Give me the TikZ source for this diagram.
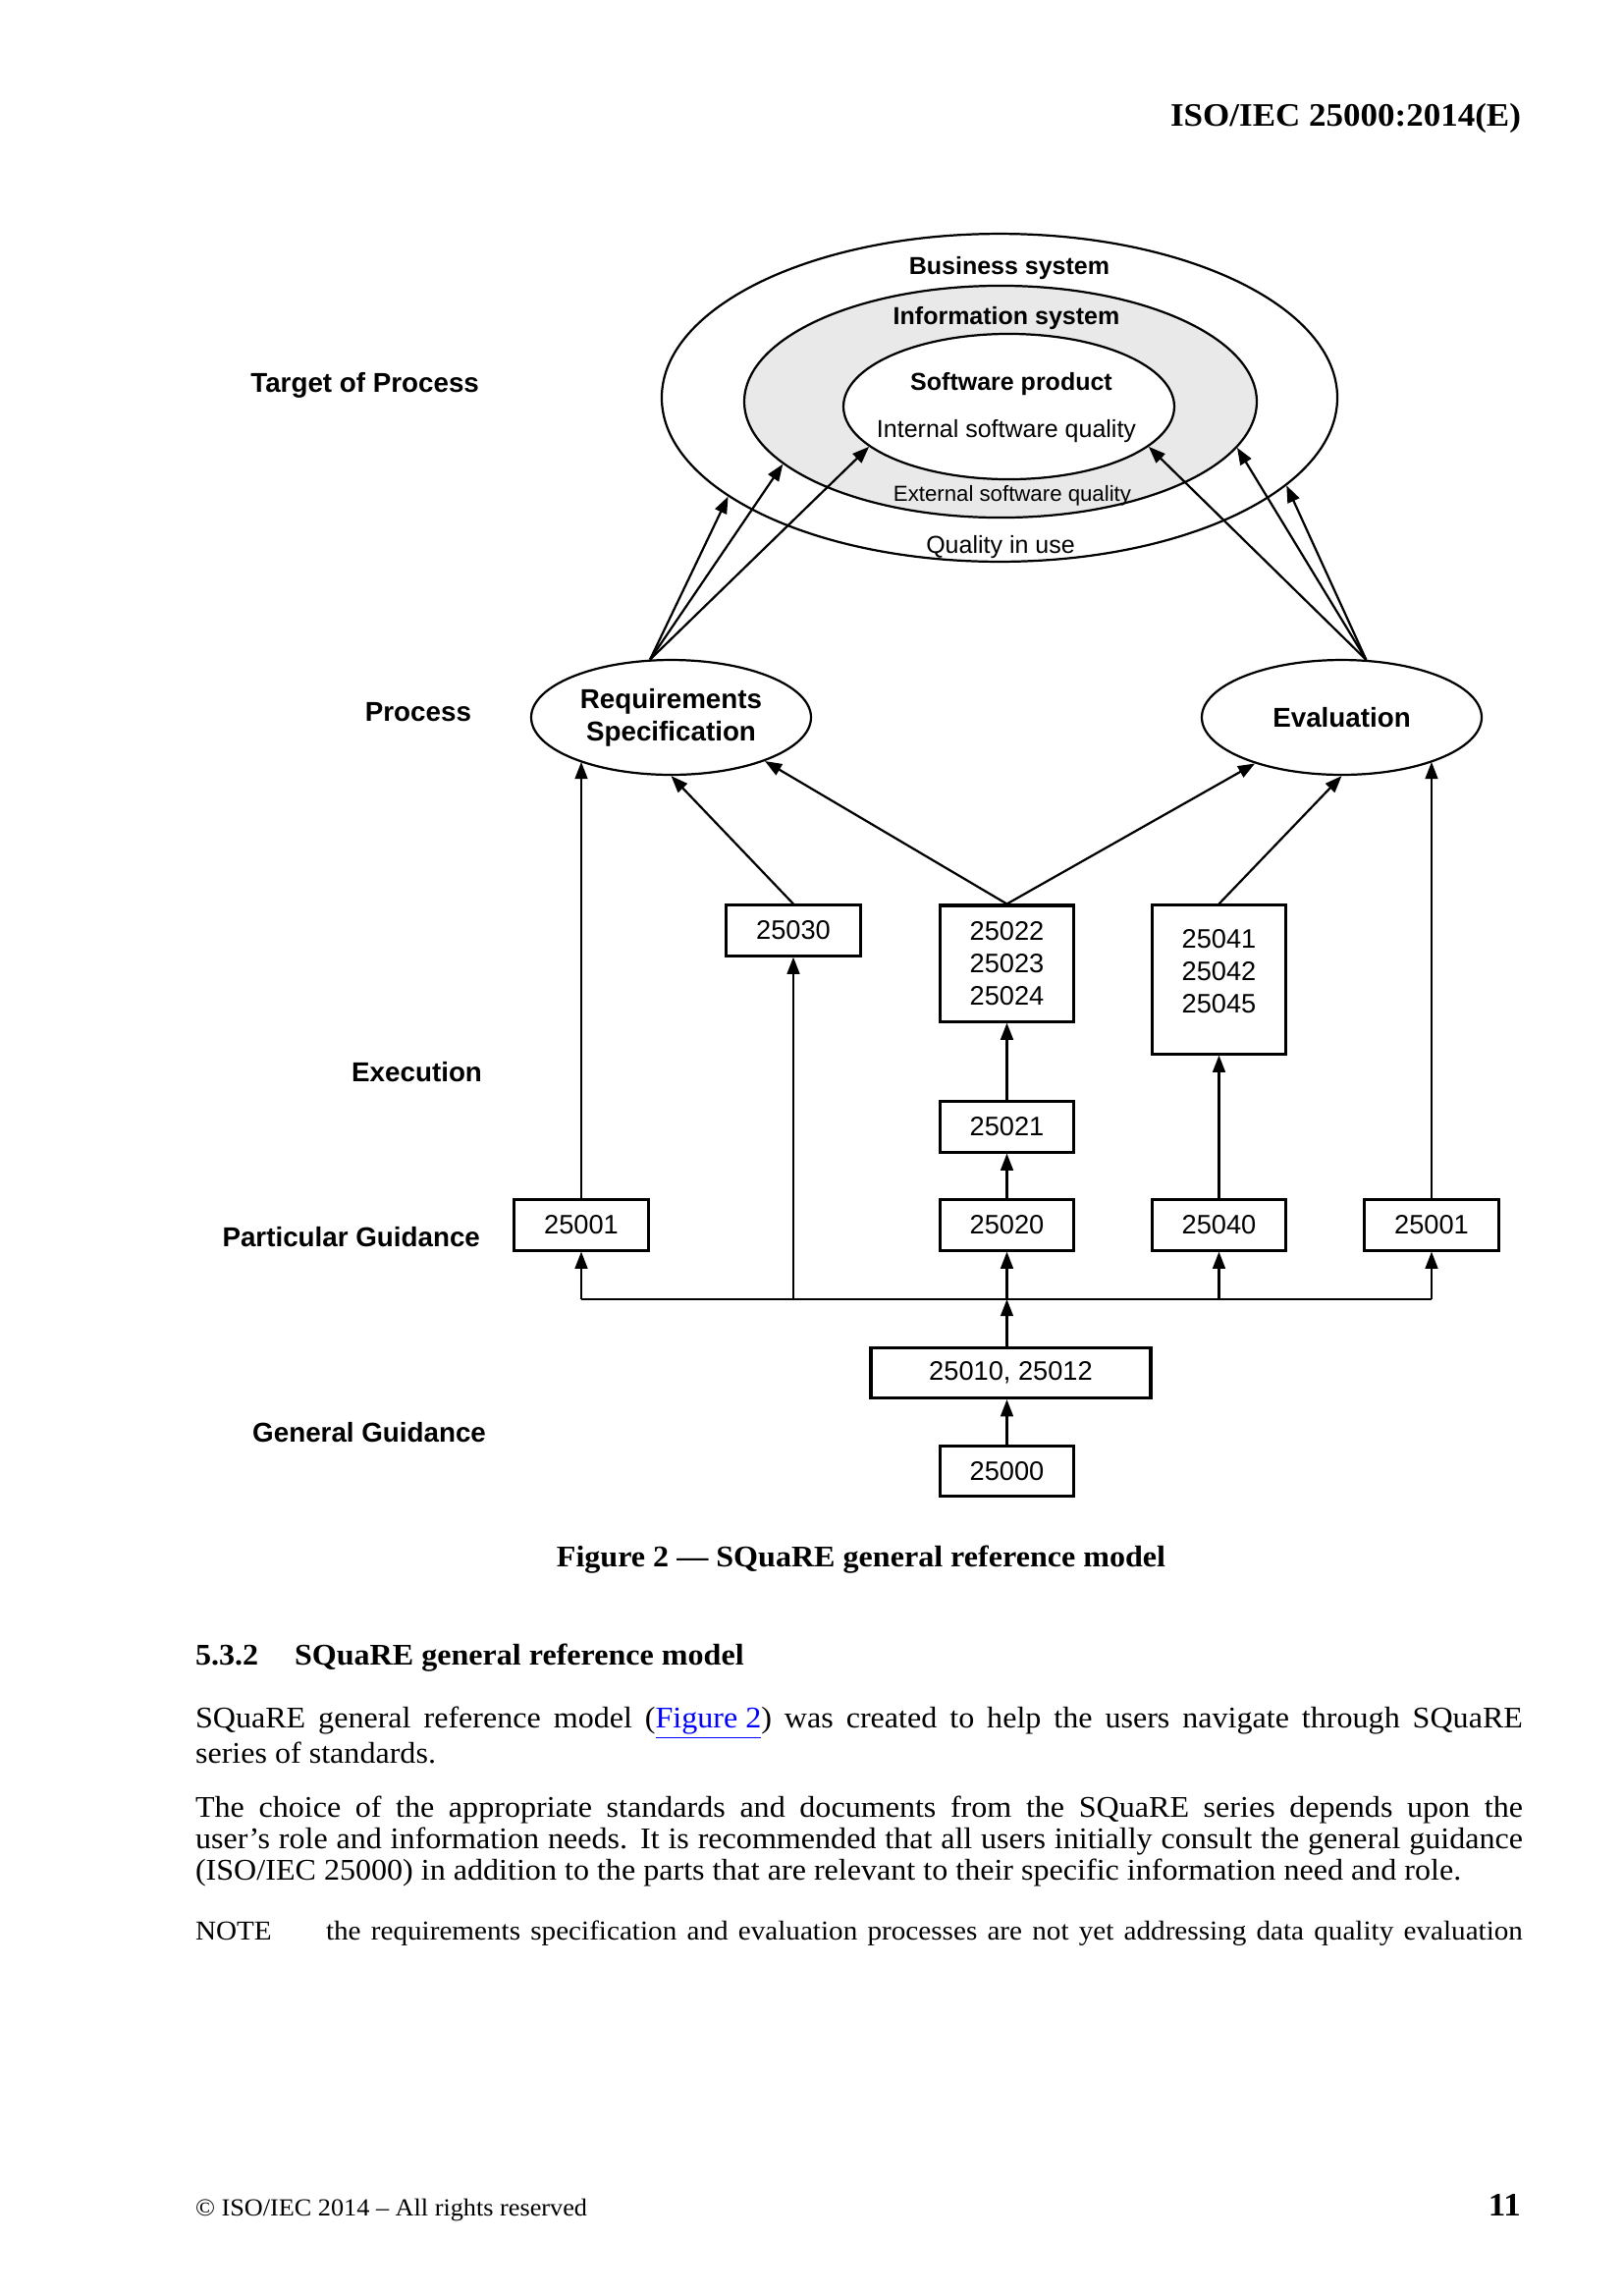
\documentclass[tikz,border=0pt]{standalone}
\usepackage{fontspec}
\setmainfont{Liberation Serif}[FakeStretch=1.05]
\newfontfamily\diagfont{Liberation Sans}
\usetikzlibrary{shapes.geometric,arrows.meta}

\tikzset{every picture/.style={line width=0.75pt}}
\tikzset{
  numbox/.style={draw, line width=1.1pt, minimum width=49pt, minimum height=18.4pt, inner sep=0pt, align=center, font=\diagfont\fontsize{9.8}{11.9}\selectfont},
  proc/.style={draw, ellipse, line width=0.8pt, minimum width=102.6pt, minimum height=42.1pt, inner sep=0pt, align=center, font=\diagfont\bfseries\fontsize{10}{11.9}\selectfont},
  ring/.style={draw, ellipse, line width=0.8pt, inner sep=0pt},
  tier/.style={anchor=east, inner sep=0pt, font=\diagfont\bfseries\fontsize{10}{12}\selectfont},
  ringtxt/.style={inner sep=0pt, font=\diagfont\fontsize{9}{11}\selectfont},
  arr/.style={line width=0.8pt, -{Triangle[length=6.2pt,width=4.6pt]}},
  wire/.style={line width=0.8pt},
  pagetxt/.style={anchor=base west, inner sep=0pt, font=\fontsize{11}{11.55}\selectfont},
}

\begin{document}
\begin{tikzpicture}[x=0.36pt,y=0.36pt,yscale=-1,xscale=1]
\useasboundingbox (0,0) rectangle (1653,2338);

% Text Node
\node [anchor=base east, inner sep=0pt, font=\bfseries\fontsize{12}{14}\selectfont] (hdr) at (1550,128) {ISO/IEC 25000:2014(E)};

%Shape: Ellipse
\node [ring, minimum width=247.7pt, minimum height=120.2pt] (busi) at (1018,405) {};
%Shape: Ellipse
\node [ring, fill={rgb, 255:red, 233; green, 233; blue, 233}, minimum width=187.9pt, minimum height=85pt] (info) at (1019,409) {};
%Shape: Ellipse
\node [ring, fill=white, minimum width=121.3pt, minimum height=53.3pt] (soft) at (1027.5,414) {};

% Text Node
\node [ringtxt, font=\diagfont\bfseries\fontsize{9}{11}\selectfont] (tbusi) at (1028,273) {Business system};
\node [ringtxt, font=\diagfont\bfseries\fontsize{9}{11}\selectfont] (tinfo) at (1025,324) {Information system};
\node [ringtxt, font=\diagfont\bfseries\fontsize{9}{11}\selectfont] (tsoft) at (1030,391) {Software product};
\node [ringtxt] (tint) at (1025,439) {Internal software quality};
\node [ringtxt, font=\diagfont\fontsize{8}{10}\selectfont] (text) at (1031,505) {External software quality};
\node [ringtxt] (tuse) at (1019,557) {Quality in use};

% Text Node
\node [tier] (ltarget) at (489,392) {Target of Process};
\node [tier] (lproc) at (481,725) {Process};
\node [tier] (lexec) at (492,1092) {Execution};
\node [tier] (lpart) at (490,1260) {Particular Guidance};
\node [tier] (lgen) at (496,1459) {General Guidance};

%Shape: Ellipse
\node [proc] (req) at (683.5,730.5) {Requirements\\Specification};
\node [proc] (eval) at (1366.5,730.5) {Evaluation};

%Shape: Rectangle
\node [numbox] (s30) at (808,947.5) {25030};
\node [numbox, minimum height=42.5pt] (s22) at (1025.5,981) {25022\\25023\\25024};
\node [numbox, minimum height=54.4pt] (s41) at (1241.5,997.5) {25041\\25042\\25045\\[-5.5pt]\mbox{}};
\node [numbox] (s21) at (1025.5,1147.5) {25021};
\node [numbox] (g01a) at (592,1247.5) {25001};
\node [numbox] (s20) at (1025.5,1247.5) {25020};
\node [numbox] (s40) at (1241.5,1247.5) {25040};
\node [numbox] (g01b) at (1458,1247.5) {25001};
\node [numbox, minimum width=102.6pt] (s10) at (1029.5,1398) {25010, 25012};
\node [numbox] (s00) at (1025.5,1498) {25000};
\coordinate (bus) at (1025.5,1323);

%Straight Lines
\draw [wire] (g01a.south |- bus) -- (g01b.south |- bus);
\draw [arr] (s00.north) -- (s00.north |- s10.south);
\draw [arr] (s10.north -| bus) -- (bus);
\draw [arr] (bus) -- (s20.south);
\draw [arr] (g01a.south |- bus) -- (g01a.south);
\draw [arr] (s30.south |- bus) -- (s30.south);
\draw [arr] (s40.south |- bus) -- (s40.south);
\draw [arr] (g01b.south |- bus) -- (g01b.south);
\draw [arr] (s20) -- (s21);
\draw [arr] (s21) -- (s22);
\draw [arr] (s40) -- (s41);

%Straight Lines
\draw [arr] (g01a.north) -- (g01a.north |- req.206);
\draw [arr] (s30.north) -- (req.south);
\draw [arr] (s22.north) -- (req.335);
\draw [arr] (s22.north) -- (eval.208);
\draw [arr] (s41.north) -- (eval.south);
\draw [arr] (g01b.north) -- (g01b.north |- eval.334);

%Straight Lines
\draw [arr] (req.110) -- (busi.200);
\draw [arr] (req.110) -- (info.196);
\draw [arr] (req.110) -- (soft.196);
\draw [arr] (eval.67) -- (soft.344);
\draw [arr] (eval.67) -- (info.349);
\draw [arr] (eval.67) -- (busi.343);

% Text Node
\node [anchor=base, inner sep=0pt, font=\bfseries\fontsize{11}{13}\selectfont] (cap) at (877,1595) {Figure 2 — SQuaRE general reference model};
\node [pagetxt, font=\bfseries\fontsize{11}{13}\selectfont] (secno) at (198,1695) {5.3.2};
\node [pagetxt, font=\bfseries\fontsize{11}{13}\selectfont] (sect) at (299,1695) {SQuaRE general reference model};
\node [pagetxt, text width=486.7pt, align=justify] (par1) at (198,1759) {SQuaRE general reference model (\textcolor{blue}{\underline{Figure 2}}) was created to help the users navigate through SQuaRE\linebreak series of standards.};
\node [pagetxt, text width=486.7pt, align=justify] (par2) at (198,1850) {The choice of the appropriate standards and documents from the SQuaRE series depends upon the\linebreak user’s role and information needs. It is recommended that all users initially consult the general guidance\linebreak (ISO/IEC 25000) in addition to the parts that are relevant to their specific information need and role.};
\node [pagetxt, font=\fontsize{10}{12}\selectfont] (notehd) at (198,1975) {NOTE};
\node [pagetxt, font=\fontsize{10}{12}\selectfont] (notetx) at (331,1975) {\makebox[438.8pt][s]{the requirements specification and evaluation processes are not yet addressing data quality evaluation}};
\node [pagetxt, font=\fontsize{9}{11}\selectfont] (foot) at (198,2256) {© ISO/IEC 2014 – All rights reserved};
\node [anchor=base east, inner sep=0pt, font=\bfseries\fontsize{12}{14}\selectfont] (pgno) at (1550,2256) {11};

\end{tikzpicture}
\end{document}
